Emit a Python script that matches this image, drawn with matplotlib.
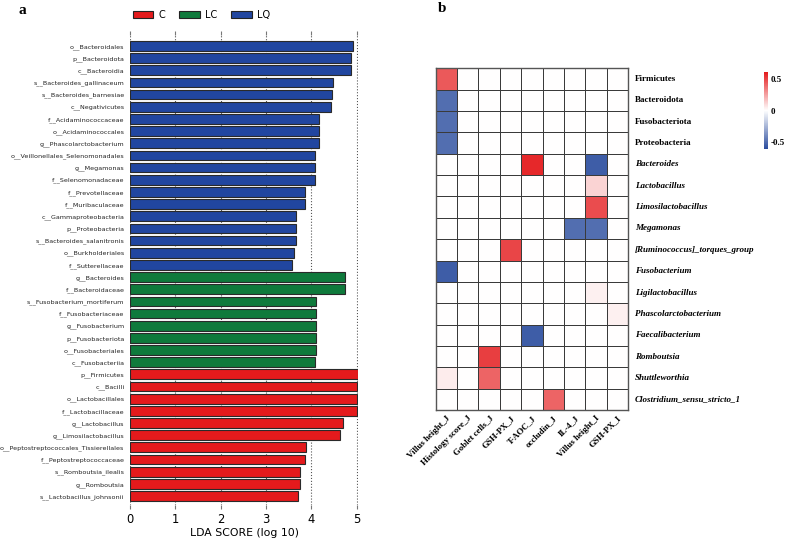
import matplotlib.pyplot as plt
import numpy as np
from matplotlib.colors import LinearSegmentedColormap, Normalize
from matplotlib.patches import Patch
import matplotlib as mpl

# LEfSe bars, top to bottom
taxa = ['o__Bacteroidales', 'p__Bacteroidota', 'c__Bacteroidia',
        's__Bacteroides_gallinaceum', 's__Bacteroides_barnesiae', 'c__Negativicutes',
        'f__Acidaminococcaceae', 'o__Acidaminococcales', 'g__Phascolarctobacterium',
        'o__Veillonellales_Selenomonadales', 'g__Megamonas', 'f__Selenomonadaceae',
        'f__Prevotellaceae', 'f__Muribaculaceae', 'c__Gammaproteobacteria',
        'p__Proteobacteria', 's__Bacteroides_salanitronis', 'o__Burkholderiales',
        'f__Sutterellaceae',
        'g__Bacteroides', 'f__Bacteroidaceae', 's__Fusobacterium_mortiferum',
        'f__Fusobacteriaceae', 'g__Fusobacterium', 'p__Fusobacteriota',
        'o__Fusobacteriales', 'c__Fusobacteriia',
        'p__Firmicutes', 'c__Bacilli', 'o__Lactobacillales', 'f__Lactobacillaceae',
        'g__Lactobacillus', 'g__Limosilactobacillus',
        'o__Peptostreptococcales_Tissierellales', 'f__Peptostreptococcaceae',
        's__Romboutsia_ilealis', 'g__Romboutsia', 's__Lactobacillus_johnsonii']
lda = [4.93, 4.88, 4.88, 4.47, 4.46, 4.44, 4.18, 4.18, 4.18, 4.08, 4.08, 4.08,
       3.87, 3.87, 3.66, 3.66, 3.66, 3.61, 3.58,
       4.75, 4.75, 4.10, 4.10, 4.10, 4.10, 4.10, 4.09,
       5.02, 5.01, 5.00, 5.00, 4.69, 4.64, 3.88, 3.87, 3.75, 3.75, 3.70]
group = ['LQ'] * 19 + ['LC'] * 8 + ['C'] * 11
group_colors = {'C': '#e41a1c', 'LC': '#0f7a3c', 'LQ': '#2146a0'}

# correlation heatmap (0 = blank cell)
genera = ['Firmicutes', 'Bacteroidota', 'Fusobacteriota', 'Proteobacteria',
          'Bacteroides', 'Lactobacillus', 'Limosilactobacillus', 'Megamonas',
          '[Ruminococcus]_torques_group', 'Fusobacterium', 'Ligilactobacillus',
          'Phascolarctobacterium', 'Faecalibacterium', 'Romboutsia',
          'Shuttleworthia', 'Clostridium_sensu_stricto_1']
n_phyla = 4
indices = ['Villus height_J', 'Histology score_J', 'Goblet cells_J', 'GSH-PX_J',
           'T-AOC_J', 'occludin_J', 'IL-4_J', 'Villus height_I', 'GSH-PX_I']
corr = [
    [0.45, 0, 0, 0, 0, 0, 0, 0, 0],
    [-0.5, 0, 0, 0, 0, 0, 0, 0, 0],
    [-0.5, 0, 0, 0, 0, 0, 0, 0, 0],
    [-0.5, 0, 0, 0, 0, 0, 0, 0, 0],
    [0, 0, 0, 0, 0.58, 0, 0, -0.56, 0],
    [0, 0, 0, 0, 0, 0, 0, 0.12, 0],
    [0, 0, 0, 0, 0, 0, 0, 0.48, 0],
    [0, 0, 0, 0, 0, 0, -0.5, -0.5, 0],
    [0, 0, 0, 0.5, 0, 0, 0, 0, 0],
    [-0.56, 0, 0, 0, 0, 0, 0, 0, 0],
    [0, 0, 0, 0, 0, 0, 0, 0.04, 0],
    [0, 0, 0, 0, 0, 0, 0, 0, 0.04],
    [0, 0, 0, 0, -0.56, 0, 0, 0, 0],
    [0, 0, 0.52, 0, 0, 0, 0, 0, 0],
    [0.05, 0, 0.42, 0, 0, 0, 0, 0, 0],
    [0, 0, 0, 0, 0, 0.42, 0, 0, 0],
]

fig = plt.figure(figsize=(7.91, 5.39), dpi=100)
W, H = 791, 539

def px_axes(x0, y0, x1, y1):
    return fig.add_axes([x0 / W, 1 - y1 / H, (x1 - x0) / W, (y1 - y0) / H])

# ---- panel a ----
ax = px_axes(130, 35, 358, 505)
y = np.arange(len(taxa))
ax.barh(y, lda, height=0.8, color=[group_colors[g] for g in group],
        edgecolor='#2a2a2a', linewidth=0.8, zorder=3)
ax.set_yticks(y)
ax.set_yticklabels(taxa, fontsize=4.6, color='#222')
ax.set_ylim(37.74, -0.9)
ax.set_xlim(0, 5.03)
ax.set_xticks([0, 1, 2, 3, 4, 5])
ax.tick_params(axis='y', length=0, pad=4)
ax.tick_params(axis='x', labelsize=8.3, top=True, length=3, color='#777', pad=3)
ax.grid(axis='x', ls=':', color='#555', lw=0.8, zorder=0)
for s in ax.spines.values():
    s.set_visible(False)
ax.set_xlabel('LDA SCORE (log 10)', fontsize=7.8, labelpad=1)
handles = [Patch(facecolor=group_colors[g], edgecolor='#222', lw=0.8, label=g)
           for g in ['C', 'LC', 'LQ']]
fig.legend(handles=handles, loc='center left', bbox_to_anchor=(124 / W, 1 - 15 / H),
           ncol=3, frameon=False, fontsize=7, handlelength=2.1, handleheight=0.7,
           columnspacing=1.5, handletextpad=0.5)
fig.text(22 / W, 1 - 10 / H, 'a', fontsize=11, fontweight='bold',
         family='Liberation Serif', va='center', ha='center')

# ---- panel b ----
cmap = LinearSegmentedColormap.from_list('bwr2', ['#2a4c9e', '#ffffff', '#e41a1c'])
norm = Normalize(vmin=-0.62, vmax=0.62)
hx = px_axes(435.7, 68.3, 628, 410)
data = np.array(corr)
hx.pcolormesh(np.arange(len(indices) + 1), np.arange(len(genera) + 1), data,
              cmap=cmap, norm=norm, edgecolors='#3a3a3a', linewidth=0.6)
hx.set_xlim(0, len(indices))
hx.set_ylim(len(genera), 0)
for s in hx.spines.values():
    s.set_color('#555')
    s.set_linewidth(1.0)
hx.set_xticks(np.arange(len(indices)) + 0.5)
hx.set_xticklabels(indices, rotation=45, ha='right', va='top', rotation_mode='anchor',
                   fontsize=6.4, family='Liberation Serif', fontweight='bold')
hx.set_yticks([])
hx.tick_params(axis='x', length=0, pad=3)
for i, g in enumerate(genera):
    hx.text(len(indices) + 0.33, i + 0.5, g, fontsize=6.5, family='Liberation Serif',
            fontweight='bold', style='normal' if i < n_phyla else 'italic',
            va='center', ha='left')
fig.text(442 / W, 1 - 9 / H, 'b', fontsize=11, fontweight='bold',
         family='Liberation Serif', va='center', ha='center')

cax = px_axes(764, 72, 768, 149)
cb = mpl.colorbar.ColorbarBase(cax, cmap=cmap, norm=norm, ticks=[-0.5, 0, 0.5])
cb.outline.set_visible(False)
cax.tick_params(length=0, pad=2)
cb.set_ticklabels(['-0.5', '0', '0.5'])
for t in cax.get_yticklabels():
    t.set_fontsize(6.5)
    t.set_family('Liberation Serif')
    t.set_fontweight('bold')

fig.savefig('out.png', dpi=100)
